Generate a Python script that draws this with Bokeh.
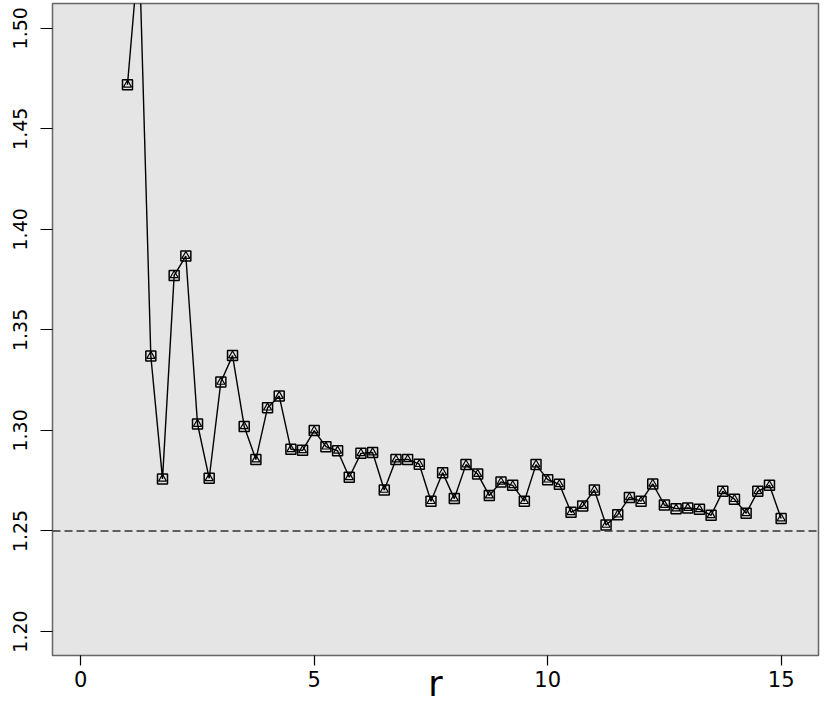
from bokeh.plotting import figure
from bokeh.models import Range1d, Span, FixedTicker
from bokeh.embed import file_html
from bokeh.resources import INLINE

r_vals = [1 + 0.25 * i for i in range(57)]
ratio = [
    1.4719, 1.540, 1.3370, 1.2759, 1.3771, 1.3867, 1.3032, 1.2762, 1.3241, 1.3372,
    1.3020, 1.2855, 1.3113, 1.3171, 1.2906, 1.2901, 1.2999, 1.2919, 1.2899, 1.2767,
    1.2886, 1.2890, 1.2704, 1.2855, 1.2856, 1.2832, 1.2648, 1.2790, 1.2661, 1.2830,
    1.2783, 1.2676, 1.2744, 1.2727, 1.2648, 1.2830, 1.2755, 1.2732, 1.2593, 1.2624,
    1.2704, 1.2530, 1.2581, 1.2667, 1.2648, 1.2734, 1.2629, 1.2611, 1.2614, 1.2608,
    1.2578, 1.2697, 1.2658, 1.2588, 1.2697, 1.2727, 1.2562,
]
ref_level = 1.25
x_ticks = [0, 5, 10, 15]
y_ticks = [1.20, 1.25, 1.30, 1.35, 1.40, 1.45, 1.50]
x_title = "r"

p = figure(width=830, height=706, output_backend="svg", toolbar_location=None,
           x_range=Range1d(-0.606, 15.80), y_range=Range1d(1.18807, 1.5123),
           min_border_left=52, min_border_right=12, min_border_top=3, min_border_bottom=51)

p.background_fill_color = "#E5E5E5"
p.border_fill_color = "white"
p.outline_line_color = "#666666"
p.outline_line_width = 1.5
p.grid.visible = False

font = "DejaVu Sans"
for ax in (p.xaxis[0], p.yaxis[0]):
    ax.axis_line_color = None
    ax.major_tick_line_color = "black"
    ax.major_tick_line_width = 1.2
    ax.major_tick_in = 0
    ax.minor_tick_line_color = None
    ax.major_label_text_font = font
    ax.major_label_text_color = "black"

xa = p.xaxis[0]
xa.ticker = FixedTicker(ticks=x_ticks)
xa.major_tick_out = 10
xa.major_label_standoff = 5
xa.major_label_text_font_size = "21px"
xa.axis_label = x_title
xa.axis_label_text_font = font
xa.axis_label_text_font_style = "normal"
xa.axis_label_text_font_size = "35px"
xa.axis_label_text_line_height = 1.0
xa.axis_label_text_color = "black"
xa.axis_label_standoff = -26

ya = p.yaxis[0]
ya.ticker = FixedTicker(ticks=y_ticks)
ya.major_tick_out = 12
ya.major_label_standoff = 13
ya.major_label_text_font_size = "19px"
ya.major_label_orientation = "vertical"
ya.major_label_overrides = {t: f"{t:.2f}" for t in y_ticks}

p.add_layout(Span(location=ref_level, dimension="width", line_color="#333333",
                  line_width=1.5, line_dash="8 4"))

p.line(r_vals, ratio, line_color="black", line_width=1.4)
p.scatter(r_vals, ratio, marker="square", size=10, fill_color=None,
          line_color="black", line_width=1.5)
p.scatter(r_vals, ratio, marker="triangle", size=8, fill_color=None,
          line_color="black", line_width=1.2)

open("out.html", "w").write(file_html(p, INLINE))
